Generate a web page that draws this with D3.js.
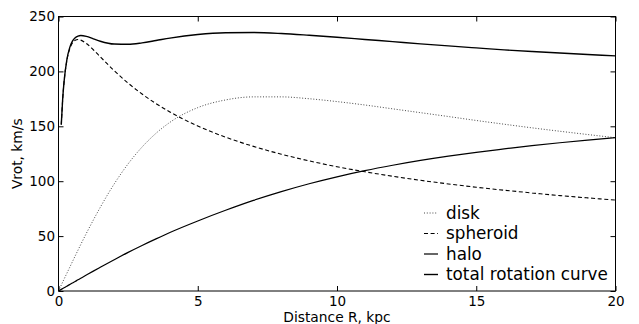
<!DOCTYPE html>
<html>
<head>
<meta charset="utf-8">
<script src="https://cdn.jsdelivr.net/npm/d3@7"></script>
<style>
  html, body { margin: 0; padding: 0; background: #fff; }
  svg { display: block; font-family: "DejaVu Sans", sans-serif; }
</style>
</head>
<body>
<svg id="chart" width="639" height="324"></svg>
<script>
// Galactocentric radius, kpc
const radius = [0, 0.1, 0.15, 0.2, 0.3, 0.4, 0.5, 0.6, 0.7, 0.8, 1, 1.25, 1.5, 2, 2.5, 3, 3.5, 4,
  5, 6, 7, 8, 9, 10, 11, 12, 13, 14, 15, 16, 17, 18, 19, 20];

// Rotation velocity components, km/s
const disk = [0, 5.4, 8.1, 10.8, 16.1, 21.4, 26.7, 32.0, 37.2, 42.4, 52.5, 64.6, 76.2, 97.5, 115.8, 131.1, 143.6, 153.6,
  167.0, 174.0, 176.8, 176.8, 175.1, 172.5, 169.4, 165.9, 162.4, 158.9, 155.3, 151.9, 148.6, 145.5, 142.5, 139.6];
const spheroid = [null, 151.5, 174.6, 190.4, 209.9, 220.3, 225.8, 228.3, 229.0, 228.5, 225.4, 219.7, 213.3, 200.7, 189.3, 179.4, 170.7, 163.1,
  150.3, 140.1, 131.7, 124.6, 118.5, 113.2, 108.6, 104.5, 100.8, 97.5, 94.5, 91.8, 89.3, 86.9, 84.8, 82.8];
const halo = [0, 1.5, 2.2, 2.9, 4.4, 5.8, 7.3, 8.7, 10.2, 11.6, 14.5, 18.1, 21.6, 28.5, 35.2, 41.5, 47.5, 53.3,
  63.8, 73.5, 82.5, 90.5, 97.7, 104.0, 109.6, 114.5, 118.9, 122.8, 126.3, 129.4, 132.4, 135.0, 137.4, 139.6];
const total = [null, 151.6, 174.8, 190.7, 210.6, 221.4, 227.5, 230.7, 232.2, 232.7, 231.9, 229.7, 227.5, 224.9, 224.7, 226.0, 228.1, 230.3,
  233.6, 235.2, 235.4, 234.5, 232.9, 231.1, 229.1, 227.1, 225.1, 223.2, 221.4, 219.6, 218.1, 216.7, 215.4, 214.1];

const xTicks = [0, 5, 10, 15, 20];
const yTicks = [0, 50, 100, 150, 200, 250];
const seriesNames = ["disk", "spheroid", "halo", "total rotation curve"];

const svg = d3.select("#chart");
const padLeft = 58.5, padRight = 615.5, padTop = 16.5, padBottom = 291;

const x = d3.scaleLinear().domain([0, 20]).range([padLeft, padRight]);
const y = d3.scaleLinear().domain([0, 250]).range([padBottom, padTop]);

const styles = {
  "disk": { stroke: "#333", width: 0.9, dash: "1,1.8" },
  "spheroid": { stroke: "#000", width: 1.1, dash: "4,2.6" },
  "halo": { stroke: "#000", width: 1.2, dash: null },
  "total rotation curve": { stroke: "#000", width: 1.4, dash: null }
};
const values = { "disk": disk, "spheroid": spheroid, "halo": halo, "total rotation curve": total };

svg.append("defs").append("clipPath").attr("id", "plotclip")
  .append("rect").attr("x", padLeft).attr("y", padTop)
  .attr("width", padRight - padLeft).attr("height", padBottom - padTop);

const line = d3.line()
  .defined(d => d[1] != null)
  .x(d => x(d[0]))
  .y(d => y(d[1]))
  .curve(d3.curveMonotoneX);

const plot = svg.append("g").attr("clip-path", "url(#plotclip)");
seriesNames.forEach(name => {
  const st = styles[name];
  plot.append("path")
    .datum(radius.map((r, i) => [r, values[name][i]]))
    .attr("fill", "none")
    .attr("stroke", st.stroke)
    .attr("stroke-width", st.width)
    .attr("stroke-dasharray", st.dash)
    .attr("d", line);
});

// Axes with inward ticks on all four sides
const tickFont = 13.5;
const ax = svg.append("g").attr("transform", `translate(0,${padBottom})`)
  .call(d3.axisBottom(x).tickValues(xTicks).tickSizeInner(-5).tickSizeOuter(0).tickPadding(5).tickFormat(d3.format("d")));
const ay = svg.append("g").attr("transform", `translate(${padLeft},0)`)
  .call(d3.axisLeft(y).tickValues(yTicks).tickSizeInner(-5).tickSizeOuter(0).tickPadding(3.5).tickFormat(d3.format("d")));
const axTop = svg.append("g").attr("transform", `translate(0,${padTop})`)
  .call(d3.axisTop(x).tickValues(xTicks).tickSizeInner(-5).tickSizeOuter(0).tickFormat(""));
const ayRight = svg.append("g").attr("transform", `translate(${padRight},0)`)
  .call(d3.axisRight(y).tickValues(yTicks).tickSizeInner(-5).tickSizeOuter(0).tickFormat(""));

[ax, ay, axTop, ayRight].forEach(g => {
  g.select(".domain").remove();
  g.selectAll(".tick line").attr("stroke", "#000").attr("stroke-width", 1);
  g.selectAll(".tick text").attr("fill", "#000").style("font-size", tickFont + "px")
    .style("font-family", "'DejaVu Sans', sans-serif");
});

// Frame
svg.append("rect")
  .attr("x", padLeft).attr("y", padTop)
  .attr("width", padRight - padLeft).attr("height", padBottom - padTop)
  .attr("fill", "none").attr("stroke", "#000").attr("stroke-width", 1);

// Axis titles
svg.append("text")
  .attr("x", (padLeft + padRight) / 2).attr("y", 321.5)
  .attr("text-anchor", "middle")
  .style("font-size", "13.8px")
  .text("Distance R, kpc");
svg.append("text")
  .attr("transform", `translate(22,${(padTop + padBottom) / 2}) rotate(-90)`)
  .attr("text-anchor", "middle")
  .style("font-size", "13.8px")
  .text("Vrot, km/s");

// Legend
const legend = svg.append("g");
const rowY = [213, 233.5, 254, 274.5];
seriesNames.forEach((name, i) => {
  const st = styles[name];
  legend.append("line")
    .attr("x1", 424).attr("x2", 438)
    .attr("y1", rowY[i]).attr("y2", rowY[i])
    .attr("stroke", st.stroke)
    .attr("stroke-width", st.width)
    .attr("stroke-dasharray", st.dash);
  legend.append("text")
    .attr("x", 446).attr("y", rowY[i]).attr("dy", "0.35em")
    .style("font-size", "16.8px")
    .text(name);
});
</script>
</body>
</html>
